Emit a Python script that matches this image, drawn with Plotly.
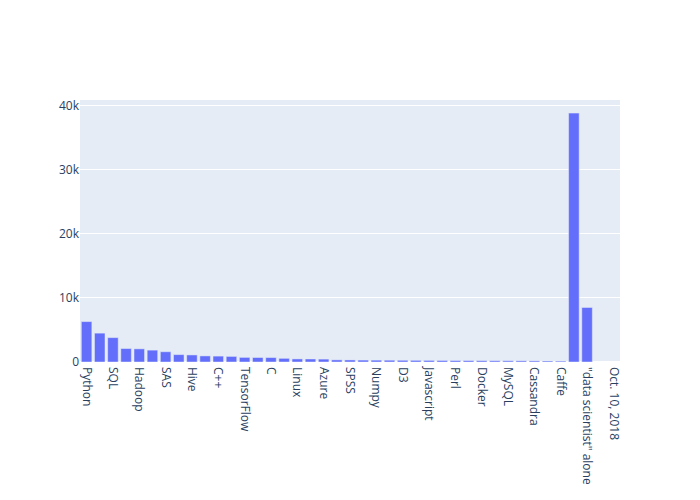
import plotly.graph_objects as go

keywords = [
    "Python", "R", "SQL", "Spark", "Hadoop", "Java", "SAS", "Tableau", "Hive", "Scala",
    "C++", "AWS", "TensorFlow", "Matlab", "C", "Excel", "Linux", "NoSQL", "Azure", "Scikit-learn",
    "SPSS", "Pandas", "Numpy", "Pig", "D3", "Keras", "Javascript", "C#", "Perl", "Hbase",
    "Docker", "Git", "MySQL", "MongoDB", "Cassandra", "PyTorch", "Caffe", "Total",
    "\"data scientist\" alone", "Source", "Oct. 10, 2018",
]
listings = [
    6300, 4500, 3800, 2100, 2050, 1850, 1600, 1150, 1100, 950,
    920, 870, 720, 700, 690, 570, 480, 470, 450, 330,
    320, 300, 290, 280, 270, 260, 250, 240, 230, 220,
    210, 200, 195, 185, 175, 160, 140, 38800,
    8500, None, None,
]

fig = go.Figure(go.Bar(x=keywords, y=listings))
# page body has an 8px margin; offset margins so the plot area sits where the reference's does
fig.update_layout(width=700, height=500, margin=dict(l=72, r=88, t=92, b=146))
fig.update_xaxes(tickangle=90, tickmode="linear", tick0=0, dtick=2, automargin=False,
                 ticklabelstandoff=4)
fig.update_yaxes(dtick=10000, automargin=False)
fig.write_html("out.html")
